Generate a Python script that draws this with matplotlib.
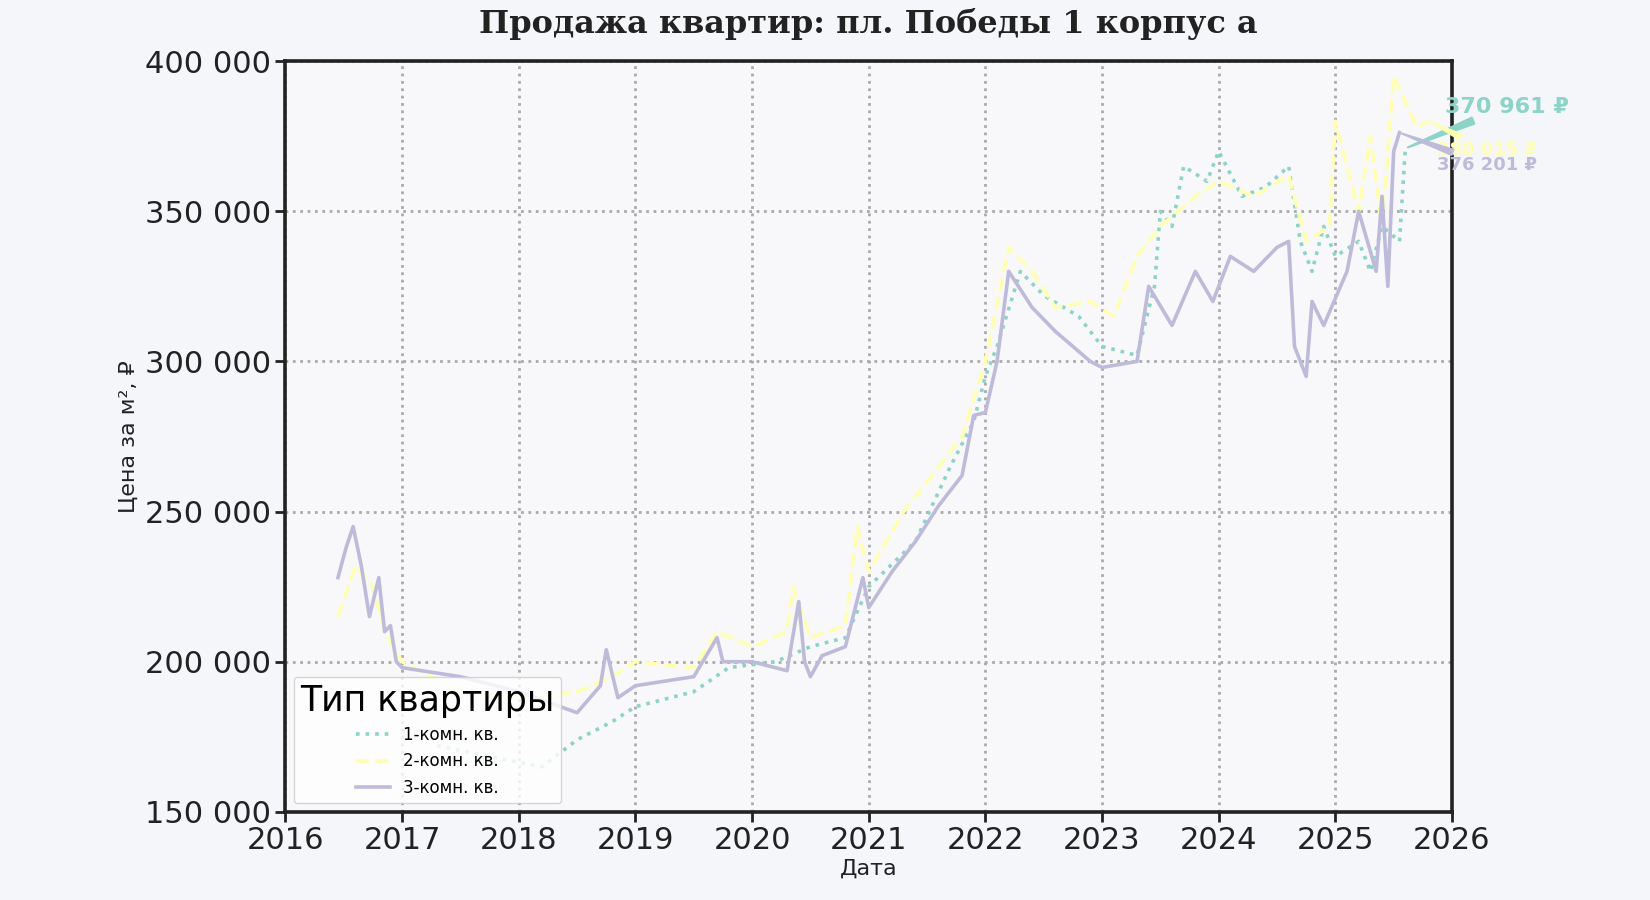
import matplotlib.pyplot as plt
from matplotlib.ticker import FuncFormatter

# =============================================================================
# DATA
# =============================================================================
x1 = [2017.3, 2017.8, 2018.2, 2018.5, 2018.8, 2019.0, 2019.5, 2019.8, 2020.2, 2020.5,
      2020.8, 2021.0, 2021.4, 2021.7, 2021.9, 2022.0, 2022.1, 2022.3, 2022.5, 2022.8,
      2023.0, 2023.3, 2023.45, 2023.5, 2023.6, 2023.7, 2023.9, 2024.0, 2024.2, 2024.4,
      2024.6, 2024.7, 2024.8, 2024.9, 2025.0, 2025.2, 2025.3, 2025.4, 2025.55, 2025.6]
y1 = [172, 168, 165, 174, 180, 185, 190, 198, 200, 205,
      208, 225, 240, 265, 280, 295, 305, 330, 322, 315,
      305, 302, 325, 350, 345, 365, 360, 370, 355, 358,
      365, 340, 330, 345, 335, 340, 330, 345, 340, 370.961]

x2 = [2016.45, 2016.6, 2016.75, 2016.85, 2017.0, 2017.5, 2018.0, 2018.5, 2018.8, 2019.0,
      2019.5, 2019.7, 2020.0, 2020.3, 2020.35, 2020.5, 2020.8, 2020.9, 2021.0, 2021.3,
      2021.6, 2021.8, 2022.0, 2022.2, 2022.4, 2022.6, 2022.9, 2023.1, 2023.3, 2023.5,
      2023.8, 2024.0, 2024.3, 2024.6, 2024.75, 2024.95, 2025.0, 2025.2, 2025.3, 2025.4,
      2025.5, 2025.7, 2025.8]
y2 = [215, 232, 225, 210, 200, 190, 188, 190, 195, 200,
      198, 210, 205, 210, 225, 208, 212, 245, 230, 250,
      265, 275, 300, 338, 330, 318, 320, 315, 335, 345,
      355, 360, 355, 362, 340, 345, 380, 350, 375, 345,
      395, 378, 380.015]

x3 = [2016.45, 2016.52, 2016.58, 2016.65, 2016.72, 2016.8, 2016.85, 2016.9, 2016.95, 2017.0,
      2017.5, 2018.0, 2018.5, 2018.7, 2018.75, 2018.85, 2019.0, 2019.5, 2019.7, 2019.75,
      2020.0, 2020.3, 2020.4, 2020.45, 2020.5, 2020.6, 2020.8, 2020.95, 2021.0, 2021.2,
      2021.4, 2021.6, 2021.8, 2021.9, 2022.0, 2022.1, 2022.2, 2022.4, 2022.6, 2022.9,
      2023.0, 2023.3, 2023.4, 2023.6, 2023.8, 2023.95, 2024.1, 2024.3, 2024.5, 2024.6,
      2024.65, 2024.75, 2024.8, 2024.9, 2025.1, 2025.2, 2025.35, 2025.4, 2025.45, 2025.5,
      2025.55]
y3 = [228, 238, 245, 232, 215, 228, 210, 212, 200, 198,
      195, 190, 183, 192, 204, 188, 192, 195, 208, 200,
      200, 197, 220, 200, 195, 202, 205, 228, 218, 230,
      240, 252, 262, 282, 283, 300, 330, 318, 310, 300,
      298, 300, 325, 312, 330, 320, 335, 330, 338, 340,
      305, 295, 320, 312, 330, 350, 330, 355, 325, 370,
      376.201]

series = [
    ("1-комн. кв.", x1, y1, "#8dd3c7", ":"),
    ("2-комн. кв.", x2, y2, "#ffffb3", "--"),
    ("3-комн. кв.", x3, y3, "#bebada", "-"),
]
labels_txt = ["370 961 ₽", "380 015 ₽", "376 201 ₽"]

# =============================================================================
# PLOT
# =============================================================================
fig = plt.figure(figsize=(16.5, 9), dpi=100, facecolor="#f5f6fa")
ax = fig.add_axes([0.173, 0.098, 0.707, 0.834], facecolor="#f8f8fa")

for name, xs, ys, col, ls in series:
    ax.plot(xs, [v * 1000 for v in ys], color=col, linestyle=ls, linewidth=2.6, label=name)

# подписи последних значений
label_pos = [(2025.94, 384800, 16), (2025.87, 370400, 13), (2025.87, 365400, 13)]
for (name, xs, ys, col, ls), txt, (tx, ty, fs) in zip(series, labels_txt, label_pos):
    ax.annotate(txt, xy=(xs[-1], ys[-1] * 1000), xytext=(tx, ty),
                color=col, fontsize=fs, fontweight="bold", va="center",
                arrowprops=dict(arrowstyle="wedge", color=col, lw=1.5),
                annotation_clip=False)

ax.set_xlim(2016, 2026)
ax.set_ylim(150000, 400000)
ax.set_xticks(range(2016, 2027))
ax.set_yticks(range(150000, 400001, 50000))
ax.yaxis.set_major_formatter(FuncFormatter(lambda v, p: f"{int(v):,}".replace(",", " ")))
ax.tick_params(labelsize=22, length=7, width=2, colors="#222222")

ax.grid(True, linestyle=":", color="#aaaaaa", linewidth=2)
for s in ax.spines.values():
    s.set_linewidth(2.6)
    s.set_color("#222222")

ax.set_xlabel("Дата", fontsize=16, color="#222222", labelpad=2)
ax.set_ylabel("Цена за м², ₽", fontsize=16, color="#222222")
ax.set_title("Продажа квартир: пл. Победы 1 корпус а", fontsize=23,
             fontweight="bold", family="DejaVu Serif", color="#222222", pad=20)

leg = ax.legend(title="Тип квартиры", loc="lower left", fontsize=12,
                title_fontsize=25, frameon=True, facecolor="white", framealpha=0.8)

fig.savefig("out.png", dpi=100, facecolor=fig.get_facecolor())
